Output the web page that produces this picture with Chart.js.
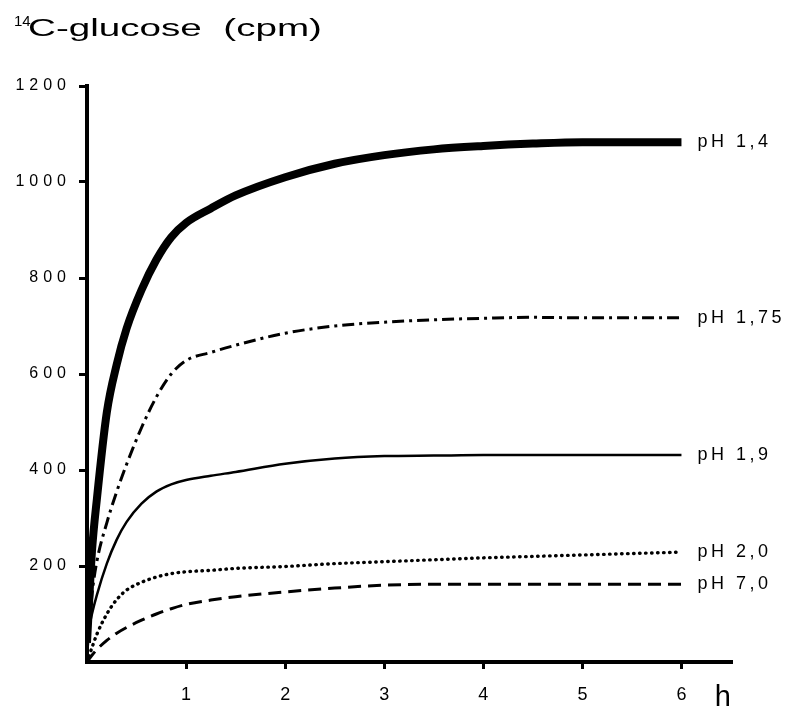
<!DOCTYPE html>
<html>
<head>
<meta charset="utf-8">
<script src="https://cdn.jsdelivr.net/npm/chart.js@4/dist/chart.umd.min.js"></script>
<style>
  html, body { margin: 0; padding: 0; background: #fff; }
  #wrap { position: relative; width: 788px; height: 710px; }
  canvas { position: absolute; left: 0; top: 0; }
  .txt { position: absolute; font-family: "Liberation Sans", Arial, sans-serif; color: #000; white-space: pre; line-height: 1; }
</style>
</head>
<body>
<div id="wrap">
  <canvas id="c" width="788" height="710"></canvas>
  <span class="txt" id="sup" style="left:14px; top:13px; font-size:15px;">14</span>
  <span class="txt" id="title" style="left:28px; top:17px; font-size:23px; transform-origin:0 0;">C-glucose  (cpm)</span>
</div>
<script>
// time (h)
const hours = [0, 0.05, 0.1, 0.2, 0.3, 0.4, 0.55, 0.7, 0.85, 1, 1.25, 1.5, 2, 2.5, 3, 3.5, 4, 4.5, 5, 5.5, 6];
// 14C-glucose (cpm) per pH
const ph14  = [40, 230, 340, 520, 620, 695, 775, 838, 885, 915, 945, 972, 1010, 1038, 1056, 1068, 1075, 1080, 1083, 1083, 1083];
const ph175 = [20, 140, 210, 290, 355, 412, 488, 552, 600, 628, 645, 660, 685, 700, 708, 713, 716, 718, 717, 717, 717];
const ph19  = [50, 100, 140, 205, 255, 292, 330, 355, 370, 379, 388, 396, 413, 424, 429, 430, 431, 431, 431, 431, 431];
const ph20  = [0, 30, 58, 100, 130, 150, 166, 177, 184, 188, 191, 195, 199, 205, 209, 213, 217, 220, 223, 226, 229];
const ph70  = [0, 14, 26, 45, 60, 72, 87, 100, 111, 120, 129, 136, 146, 154, 160, 162, 162, 162, 162, 162, 162];
const seriesLabels = ["pH 1,4", "pH 1,75", "pH 1,9", "pH 2,0", "pH 7,0"];
const xTicks = [1, 2, 3, 4, 5, 6];
const yTicks = [200, 400, 600, 800, 1000, 1200];

// fit title width
const t = document.getElementById('title');
const w = t.getBoundingClientRect().width;
t.style.transform = 'scaleX(' + (294 / w) + ')';

const pts = arr => hours.map((h, i) => ({ x: h, y: arr[i] }));
const FONT = '"Liberation Sans", Arial, sans-serif';

const ds = (label, arr, width, dash, cap) => ({
  label, data: pts(arr), borderColor: '#000', backgroundColor: '#000',
  borderWidth: width, borderDash: dash, borderCapStyle: cap || 'butt',
  pointRadius: 0, fill: false, cubicInterpolationMode: 'monotone'
});

const labelPlugin = {
  id: 'endLabels',
  afterLayout(chart) {
    const ys = chart.scales.y;
    if (ys && !ys._lsWrapped) {
      const orig = ys.drawLabels;
      ys.drawLabels = function (area) {
        const c = this.ctx;
        const prev = c.letterSpacing;
        c.letterSpacing = '5px';
        orig.call(this, area);
        c.letterSpacing = prev;
      };
      ys._lsWrapped = true;
    }
  },
  afterDatasetsDraw(chart) {
    const ctx = chart.ctx;
    ctx.save();
    ctx.letterSpacing = '3.5px';
    ctx.font = '18px ' + FONT;
    ctx.fillStyle = '#000';
    ctx.textAlign = 'left';
    ctx.textBaseline = 'middle';
    chart.data.datasets.forEach((d, i) => {
      const meta = chart.getDatasetMeta(i);
      const p = meta.data[meta.data.length - 1];
      ctx.fillText(d.label, p.x + 16, p.y);
    });
    ctx.restore();
  }
};

new Chart(document.getElementById('c'), {
  type: 'line',
  data: {
    datasets: [
      ds(seriesLabels[0], ph14, 8, [], 'butt'),
      ds(seriesLabels[1], ph175, 3, [12, 5, 3, 5]),
      ds(seriesLabels[2], ph19, 2.5, []),
      ds(seriesLabels[3], ph20, 3.4, [0.5, 5.5], 'round'),
      ds(seriesLabels[4], ph70, 3, [13, 7])
    ]
  },
  options: {
    responsive: false,
    animation: false,
    devicePixelRatio: 1,
    layout: { padding: { top: 86, right: 57, bottom: 0, left: 0 } },
    plugins: { legend: { display: false }, tooltip: { enabled: false } },
    scales: {
      x: {
        type: 'linear', min: 0, max: 6.5,
        afterBuildTicks: s => { s.ticks = xTicks.map(v => ({ value: v })); },
        afterFit: s => { s.height = 48; },
        ticks: { color: '#000', font: { family: FONT, size: 18 }, padding: 15, callback: v => String(v) },
        grid: { drawOnChartArea: false, drawTicks: true, tickLength: 7, lineWidth: 3, color: '#000' },
        border: { color: '#000', width: 4 },
        title: { display: true, text: 'h', align: 'end', color: '#000', font: { family: FONT, size: 29, lineHeight: 0.85 }, padding: 0 }
      },
      y: {
        min: 0, max: 1200,
        afterBuildTicks: s => { s.ticks = yTicks.map(v => ({ value: v })); },
        afterFit: s => { s.width = 87; },
        ticks: { color: '#000', font: { family: FONT, size: 16 }, padding: 8, callback: v => String(v) },
        grid: { drawOnChartArea: false, drawTicks: true, tickLength: 8, lineWidth: 3, color: '#000' },
        border: { color: '#000', width: 4 }
      }
    }
  },
  plugins: [labelPlugin]
});
</script>
</body>
</html>
